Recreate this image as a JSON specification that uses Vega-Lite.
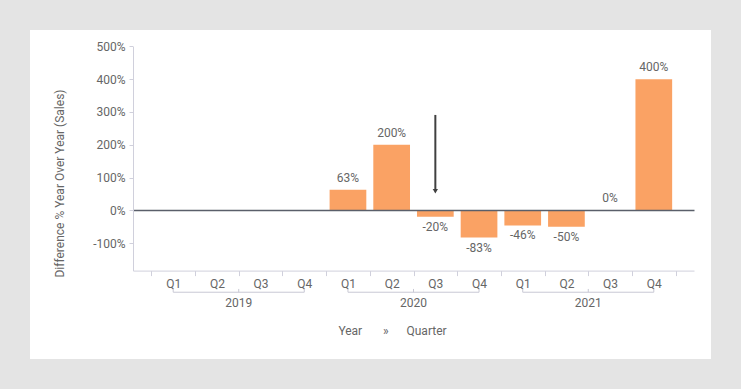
{
  "$schema": "https://vega.github.io/schema/vega-lite/v6.json",
  "width": 681,
  "height": 329,
  "padding": 30,
  "autosize": {"type": "none"},
  "background": "#e4e4e4",
  "config": {
    "locale": {"number": {"decimal": ".", "thousands": ",", "grouping": [3], "currency": ["$", ""], "minus": "-"}},
    "view": {"fill": "white", "stroke": null},
    "font": "Roboto",
    "axis": {
      "labelFont": "Roboto",
      "labelFontSize": 12,
      "labelColor": "#666666",
      "titleFont": "Roboto",
      "titleFontSize": 12,
      "titleFontWeight": "normal",
      "titleColor": "#666666",
      "domainColor": "#d0d0dc",
      "tickColor": "#d0d0dc"
    },
    "text": {"font": "Roboto", "fontSize": 12, "color": "#666666"}
  },
  "datasets": {
    "sales": [
      {"period": "2019 Q1", "value": null},
      {"period": "2019 Q2", "value": null},
      {"period": "2019 Q3", "value": null},
      {"period": "2019 Q4", "value": null},
      {"period": "2020 Q1", "value": 0.63},
      {"period": "2020 Q2", "value": 2.0},
      {"period": "2020 Q3", "value": -0.2},
      {"period": "2020 Q4", "value": -0.83},
      {"period": "2021 Q1", "value": -0.46},
      {"period": "2021 Q2", "value": -0.5},
      {"period": "2021 Q3", "value": 0.004},
      {"period": "2021 Q4", "value": 4.0}
    ],
    "arrow": [{"period": "2020 Q3", "value": 2.91, "end": 0.64, "tip": 0.58}],
    "brackets": [
      {"year": "2019", "period": "2019 Q1", "value": -2.4, "ord": 1},
      {"year": "2019", "period": "2019 Q1", "value": -2.5, "ord": 2},
      {"year": "2019", "period": "2019 Q4", "value": -2.5, "ord": 3},
      {"year": "2019", "period": "2019 Q4", "value": -2.4, "ord": 4},
      {"year": "2020", "period": "2020 Q1", "value": -2.4, "ord": 1},
      {"year": "2020", "period": "2020 Q1", "value": -2.5, "ord": 2},
      {"year": "2020", "period": "2020 Q4", "value": -2.5, "ord": 3},
      {"year": "2020", "period": "2020 Q4", "value": -2.4, "ord": 4},
      {"year": "2021", "period": "2021 Q1", "value": -2.4, "ord": 1},
      {"year": "2021", "period": "2021 Q1", "value": -2.5, "ord": 2},
      {"year": "2021", "period": "2021 Q4", "value": -2.5, "ord": 3},
      {"year": "2021", "period": "2021 Q4", "value": -2.4, "ord": 4}
    ],
    "years": [
      {"year": "2019", "period": "2019 Q2", "value": -2.82, "tickFrom": -2.5, "tickTo": -2.4},
      {"year": "2020", "period": "2020 Q2", "value": -2.82, "tickFrom": -2.5, "tickTo": -2.4},
      {"year": "2021", "period": "2021 Q2", "value": -2.82, "tickFrom": -2.5, "tickTo": -2.4}
    ]
  },
  "encoding": {
    "x": {
      "field": "period",
      "type": "nominal",
      "title": "Year\u00a0\u00a0\u00a0\u00a0\u00a0\u00a0\u00a0»\u00a0\u00a0\u00a0\u00a0\u00a0\u00a0Quarter",
      "scale": {
        "domain": ["2019 Q1", "2019 Q2", "2019 Q3", "2019 Q4", "2020 Q1", "2020 Q2", "2020 Q3", "2020 Q4", "2021 Q1", "2021 Q2", "2021 Q3", "2021 Q4"],
        "range": [103, 664],
        "paddingInner": 0,
        "paddingOuter": 0.42
      },
      "axis": {
        "orient": "bottom",
        "offset": -88.4,
        "labelExpr": "split(datum.label, ' ')[1]",
        "labelAngle": 0,
        "tickBand": "extent",
        "tickSize": 5,
        "labelPadding": 3,
        "titleX": 362,
        "titleY": 59.4,
        "titleBaseline": "middle",
        "titleAlign": "center"
      }
    },
    "y": {
      "field": "value",
      "type": "quantitative",
      "title": "Difference % Year Over Year (Sales)",
      "scale": {"domain": [-1.84, 5.0], "range": [240.6, 16.45], "nice": false, "zero": false},
      "axis": {
        "orient": "left",
        "offset": -103,
        "values": [-1, 0, 1, 2, 3, 4, 5],
        "format": ".0%",
        "tickSize": 4,
        "labelPadding": 4,
        "grid": true,
        "gridWidth": 1.5,
        "gridColor": {"condition": {"test": "datum.value === 0", "value": "#5a5f6a"}, "value": "transparent"},
        "titleX": -67,
        "titleY": 153,
        "zindex": 1
      }
    }
  },
  "layer": [
    {
      "data": {"name": "sales"},
      "mark": {"type": "bar", "width": {"band": 0.84}, "color": "#faa264"}
    },
    {
      "data": {"name": "sales"},
      "transform": [{"filter": "datum.value >= 0"}],
      "mark": {"type": "text", "baseline": "bottom", "dy": -5},
      "encoding": {"text": {"field": "value", "type": "quantitative", "format": ".0%"}}
    },
    {
      "data": {"name": "sales"},
      "transform": [{"filter": "datum.value < 0"}],
      "mark": {"type": "text", "baseline": "top", "dy": 5},
      "encoding": {"text": {"field": "value", "type": "quantitative", "format": ".0%"}}
    },
    {
      "data": {"name": "arrow"},
      "mark": {"type": "rule", "color": "#404040", "strokeWidth": 2},
      "encoding": {"y2": {"field": "end"}}
    },
    {
      "data": {"name": "arrow"},
      "mark": {"type": "point", "shape": "triangle-down", "filled": true, "color": "#404040", "size": 28, "opacity": 1},
      "encoding": {
        "y": {"field": "tip", "type": "quantitative", "title": "Difference % Year Over Year (Sales)"}
      }
    },
    {
      "data": {"name": "brackets"},
      "mark": {"type": "line", "color": "#c8c8d4", "strokeWidth": 1},
      "encoding": {
        "detail": {"field": "year"},
        "order": {"field": "ord"}
      }
    },
    {
      "data": {"name": "years"},
      "mark": {"type": "rule", "color": "#c8c8d4", "strokeWidth": 1},
      "encoding": {
        "x": {"field": "period", "type": "nominal", "bandPosition": 1, "title": "Year\u00a0\u00a0\u00a0\u00a0\u00a0\u00a0\u00a0»\u00a0\u00a0\u00a0\u00a0\u00a0\u00a0Quarter"},
        "y": {"field": "tickFrom", "type": "quantitative", "title": "Difference % Year Over Year (Sales)"},
        "y2": {"field": "tickTo"}
      }
    },
    {
      "data": {"name": "years"},
      "mark": {"type": "text", "baseline": "middle"},
      "encoding": {
        "x": {"field": "period", "type": "nominal", "bandPosition": 1, "title": "Year\u00a0\u00a0\u00a0\u00a0\u00a0\u00a0\u00a0»\u00a0\u00a0\u00a0\u00a0\u00a0\u00a0Quarter"},
        "text": {"field": "year"}
      }
    }
  ]
}
